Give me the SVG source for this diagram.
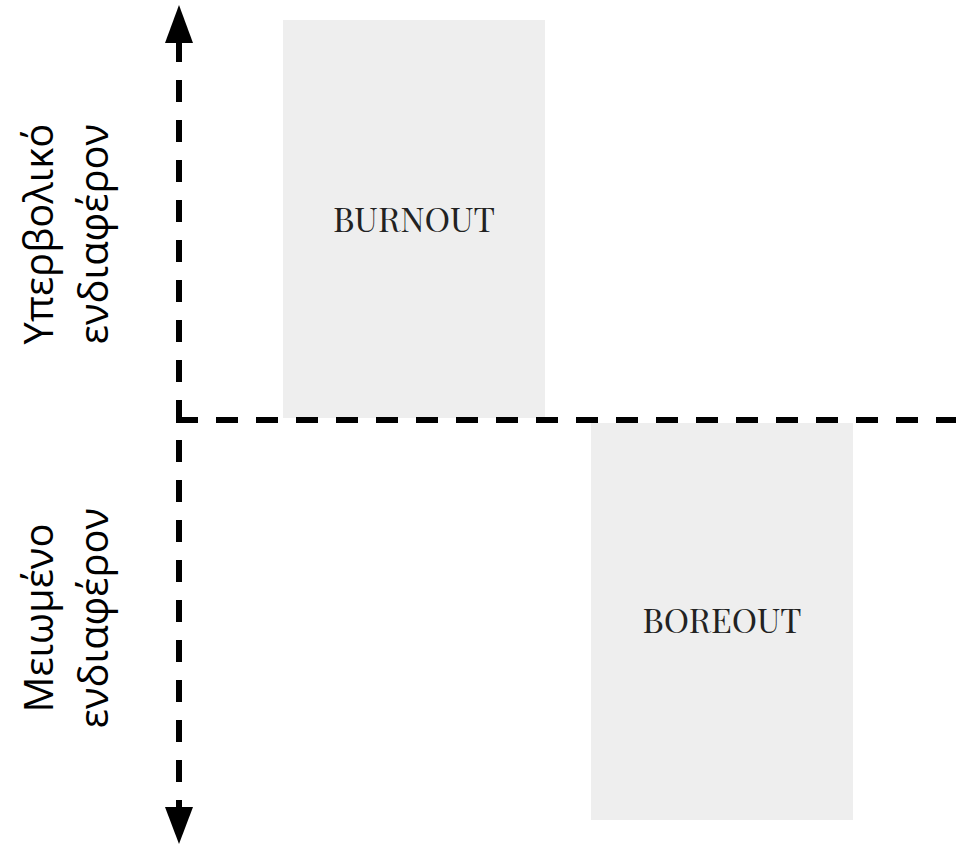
<svg xmlns="http://www.w3.org/2000/svg" width="956" height="845" viewBox="0 0 956 845">
  <style>
    .box { fill: #eeeeee; }
    .boxlabel { font-family: "Playfair Display", "Liberation Serif", "DejaVu Serif", serif; font-size: 33px; fill: #222222; text-anchor: middle; }
    .axislabel { font-family: "Open Sans", "Noto Sans", "DejaVu Sans", sans-serif; font-size: 40px; fill: #000000; text-anchor: middle; }
    .axis { stroke: #000000; stroke-width: 6; fill: none; stroke-dasharray: 22 18; }
    .head { fill: #000000; }
  </style>

  <!-- quadrant boxes -->
  <g id="burnout">
    <rect class="box" x="283" y="20" width="262" height="398"/>
    <text class="boxlabel" x="414" y="232" textLength="162" lengthAdjust="spacingAndGlyphs">BURNOUT</text>
  </g>
  <g id="boreout">
    <rect class="box" x="591" y="423" width="262" height="397"/>
    <text class="boxlabel" x="722" y="633" textLength="159" lengthAdjust="spacingAndGlyphs">BOREOUT</text>
  </g>

  <!-- axes -->
  <g id="axes">
    <line class="axis" x1="179" y1="40" x2="179" y2="808"/>
    <line class="axis" x1="176" y1="420" x2="956" y2="420"/>
    <polygon class="head" points="179,5 193,43 165,43"/>
    <polygon class="head" points="179,844 193,807 165,807"/>
  </g>

  <!-- vertical axis labels -->
  <g id="label-high">
    <text class="axislabel" transform="translate(53,234) rotate(-90)">Υπερβολικό</text>
    <text class="axislabel" transform="translate(108,234) rotate(-90)">ενδιαφέρον</text>
  </g>
  <g id="label-low">
    <text class="axislabel" transform="translate(53,618) rotate(-90)">Μειωμένο</text>
    <text class="axislabel" transform="translate(108,618) rotate(-90)">ενδιαφέρον</text>
  </g>
</svg>
